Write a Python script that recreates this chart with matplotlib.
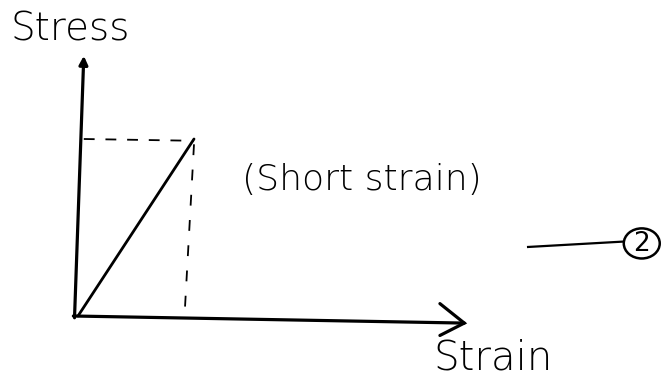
import matplotlib
matplotlib.use("Agg")
import matplotlib.pyplot as plt
from matplotlib.patches import Ellipse

# Conceptual data: linear stress-strain up to a point
strain = [0.0, 1.0]
stress = [0.0, 1.0]
x_label = "Strain"
y_label = "Stress"
note = "(Short strain)"
eq_no = "2"

W, H = 667, 378
fig = plt.figure(figsize=(W / 100, H / 100), dpi=100)
ax = fig.add_axes([0, 0, 1, 1])
ox, oy = 78, 316          # origin pixel
sx, sy = 116, 177         # pixels per unit
ax.set_xlim(-ox / sx, (W - ox) / sx)
ax.set_ylim(-(H - oy) / sy, oy / sy)
ax.axis("off")

lw_axis = 2.3
# y axis (slightly tilted) with arrow head
ax.annotate("", xy=(0.05, 1.47), xytext=(-0.03, -0.01),
            arrowprops=dict(arrowstyle="-|>,head_length=0.5,head_width=0.25",
                            lw=lw_axis, color="black", shrinkA=0, shrinkB=0))
# x axis with open arrow head
ax.plot([-0.04, 3.33], [0.0, -0.04], color="black", lw=lw_axis, solid_capstyle="round")
ax.plot([3.12, 3.33, 3.12], [0.07, -0.04, -0.11], color="black", lw=lw_axis,
        solid_capstyle="round", solid_joinstyle="miter")

# the linear curve
ax.plot(strain, stress, color="black", lw=2.0, solid_capstyle="round")

# dashed projections
ax.plot([0.05, strain[1]], [stress[1], stress[1] - 0.01], color="black", lw=1.3,
        dashes=(6, 6))
ax.plot([strain[1], strain[1] - 0.08], [stress[1] - 0.03, 0.02], color="black",
        lw=1.3, dashes=(6, 8))

# labels
ax.text(-0.58, 1.62, y_label, fontsize=28, ha="left", va="center",
        family="DejaVu Sans", fontweight="light")
ax.text(3.06, -0.30, x_label, fontsize=29, ha="left", va="baseline",
        family="DejaVu Sans", fontweight="light")
ax.text(1.41, 0.77, note, fontsize=26, ha="left", va="center",
        family="DejaVu Sans", fontweight="light")

# equation number marker
ax.plot([3.88, 4.69], [0.39, 0.42], color="black", lw=1.6)
ax.add_patch(Ellipse((4.86, 0.41), 0.31, 0.17, fill=False, lw=1.8, color="black"))
ax.text(4.86, 0.405, eq_no, fontsize=19, ha="center", va="center")

fig.savefig("out.png", dpi=100, facecolor="white")
